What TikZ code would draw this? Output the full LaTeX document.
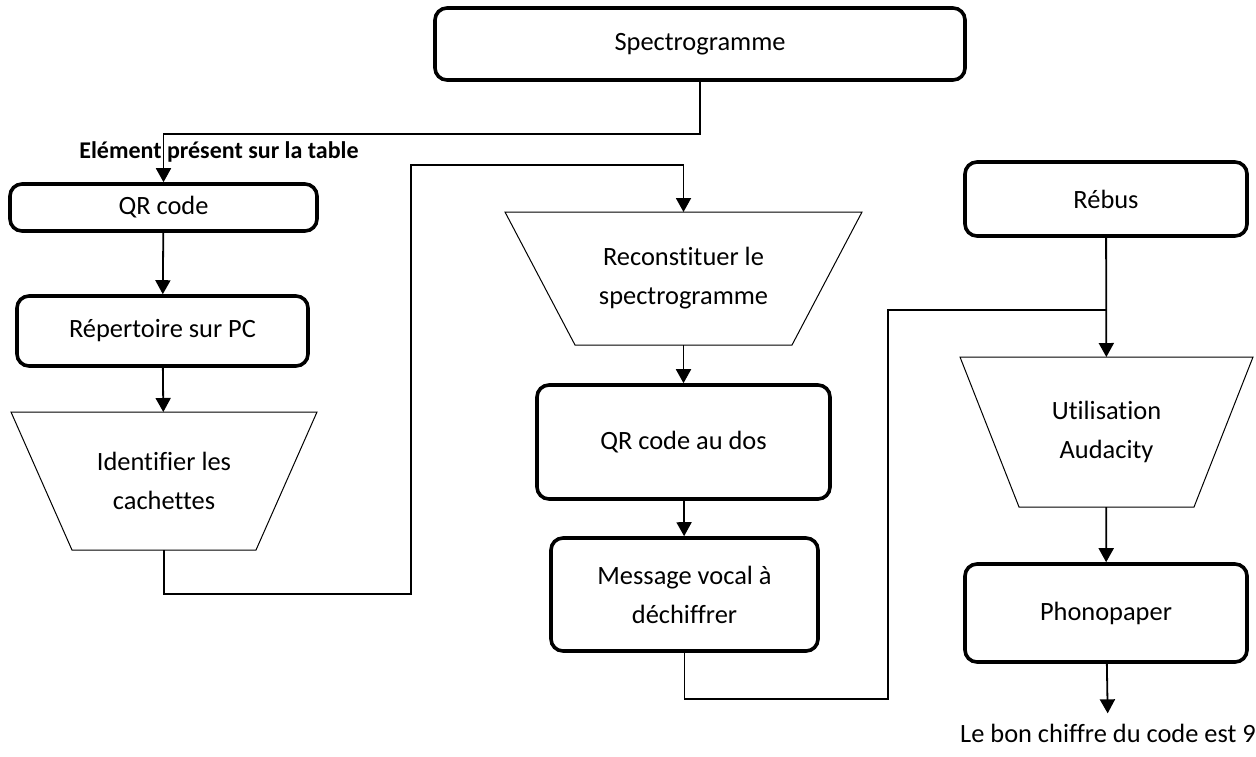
\documentclass[tikz,border=0pt]{standalone}
\usepackage{fontspec}
\setmainfont{Carlito}[Ligatures=NoCommon]
\usetikzlibrary{arrows.meta}

\tikzset{
  stepbox/.style={draw,line width=1.8pt,rounded corners=6pt,align=center,inner sep=0pt},
  funnel/.style={align=center,inner sep=0pt,outer sep=0pt},
  flow/.style={line width=0.9pt,-{Triangle[length=7pt,width=7.5pt]}},
  link/.style={line width=0.9pt},
}

\begin{document}
\begin{tikzpicture}[x=0.5pt,y=-0.5pt,font=\fontsize{13.2}{19.5}\selectfont]
\useasboundingbox (0,0) rectangle (1256,756);
% boites
\node[stepbox,minimum width=265pt,minimum height=36pt] (spec) at (700,44) {Spectrogramme};
\node[stepbox,minimum width=153.5pt,minimum height=23.5pt] (qr) at (163.5,207.5) {QR code};
\node[stepbox,minimum width=145.5pt,minimum height=35pt] (rep) at (162.5,331) {Répertoire sur PC};
\node[funnel,minimum width=153pt,minimum height=69pt] (ident) at (164,481) {Identifier les\\cachettes};
\node[funnel,minimum width=178.5pt,minimum height=66.5pt] (recon) at (683.5,278.5) {Reconstituer le\\spectrogramme};
\node[stepbox,minimum width=146.5pt,minimum height=57pt] (dos) at (683.5,442) {QR code au dos};
\node[stepbox,minimum width=133.5pt,minimum height=56.5pt] (msg) at (684.5,594.5) {Message vocal à\\déchiffrer};
\node[stepbox,minimum width=141pt,minimum height=37pt] (rebus) at (1106,199) {Rébus};
\node[funnel,minimum width=146.5pt,minimum height=75pt] (util) at (1106.5,432) {Utilisation\\Audacity};
\node[stepbox,minimum width=141pt,minimum height=49pt] (phono) at (1106,613) {Phonopaper};
\node[inner sep=5pt] (fin) at (1108,733) {Le bon chiffre du code est 9};
\node[font=\fontsize{12}{14}\selectfont\bfseries,inner sep=0pt] (lbl) at (219,152) {Elément présent sur la table};
% trapezes
\foreach \n/\d in {ident/30.5pt,recon/35pt,util/29.5pt}
  \draw[line width=0.5pt] (\n.north west) -- (\n.north east) -- ([xshift=-\d]\n.south east)
    -- ([xshift=\d]\n.south west) -- cycle;
% points de passage
\coordinate (ret1) at (411,594);
\coordinate (ret2) at (411,165);
\coordinate (ret3) at (888,699);
\coordinate (ret4) at (888,310);
% liaisons
\draw[flow] (spec.south) -- ++(0,52) -| (qr.north);
\draw[flow] (qr) -- (rep);
\draw[flow] (rep) -- (ident);
\draw[flow] (ident.south) |- (ret1) -- (ret2) -| (recon.north);
\draw[flow] (recon) -- (dos);
\draw[flow] (dos) -- (msg);
\draw[link] (msg.south) |- (ret3) -- (ret4) -- (ret4 -| rebus.south);
\draw[flow] (rebus) -- (util);
\draw[flow] (util) -- (phono);
\draw[flow] (phono) -- (fin);
\end{tikzpicture}
\end{document}
